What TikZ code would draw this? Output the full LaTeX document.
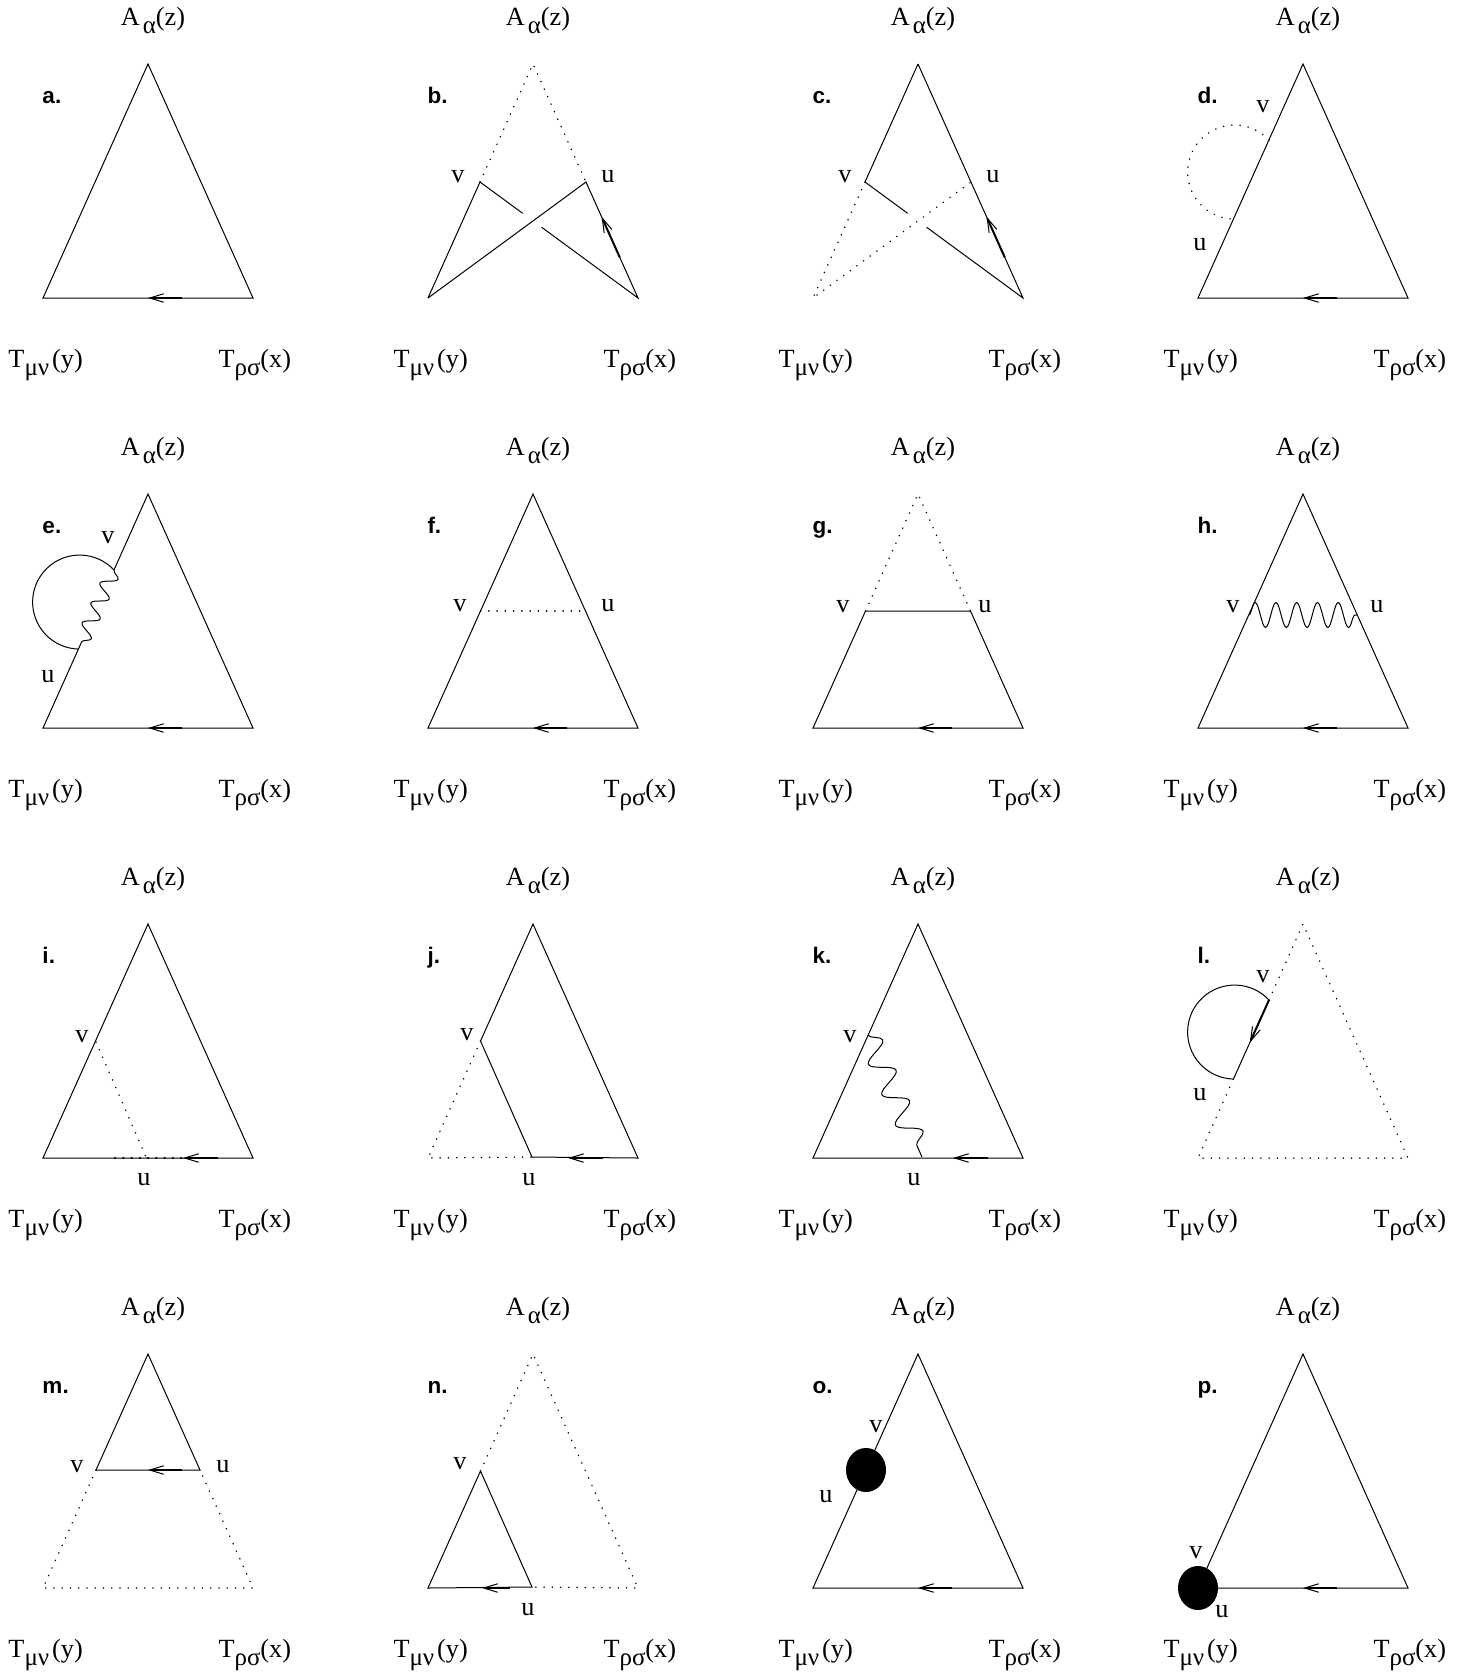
\documentclass[tikz,border=0pt]{standalone}
\usepackage{fontspec}
\setmainfont{Liberation Serif}
\newfontfamily\tagfont{Liberation Sans}
\usetikzlibrary{arrows.meta,calc,decorations.pathmorphing,shapes.geometric}

\newcommand\lowsub[1]{\raisebox{-3.4pt}{\fontsize{10}{12}\selectfont #1}}

\tikzset{
  lbl/.style={inner sep=0pt, font=\fontsize{10.5}{12.6}\selectfont},
  tag/.style={inner sep=0pt, font=\tagfont\bfseries\fontsize{9}{10}\selectfont},
  dotline/.style={line width=0.6pt, line cap=round, dash pattern=on 0.1pt off 3.2pt},
  flow/.style={line width=0.8pt, -{Straight Barb[length=5.6pt,width=3.4pt,line width=0.4pt]}},
  photon/.style={decorate, decoration={snake, amplitude=3pt, segment length=8.7pt}},
  blob/.style={ellipse, fill, draw, minimum width=15.6pt, minimum height=17.2pt, inner sep=0pt},
}

\begin{document}
\begin{tikzpicture}[x=0.4pt,y=-0.4pt]
  \useasboundingbox (0,0) rectangle (1473,1676);

  % the sixteen panels: vertices, external labels and panel letter
  \foreach \p/\col/\row in {a/0/0,b/1/0,c/2/0,d/3/0,e/0/1,f/1/1,g/2/1,h/3/1,
                            i/0/2,j/1/2,k/2/2,l/3/2,m/0/3,n/1/3,o/2/3,p/3/3} {
    \begin{scope}[shift={(385*\col,430*\row)}]
      \coordinate (\p-A) at (148,64);
      \coordinate (\p-L) at (43,298);
      \coordinate (\p-R) at (253,298);
      \coordinate (\p-m) at (148,298);
      \coordinate (\p-ms) at (182,298);
      \coordinate (\p-n) at (183,298);
      \coordinate (\p-ns) at (218,298);
      \node[lbl,anchor=base] (\p-za) at (153,25) {A\kern1.2pt\lowsub{α}(z)};
      \node[lbl,anchor=base west] (\p-ty) at (8,367) {T\lowsub{μν}\kern1.2pt(y)};
      \node[lbl,anchor=base west] (\p-tx) at (218,367) {T\lowsub{ρσ}(x)};
      \node[tag,anchor=base west] (\p-tag) at (42,103) {\p.};
    \end{scope}
  }

  % a.
  \draw (a-A) -- (a-L) -- (a-R) -- cycle;
  \draw[flow] (a-ms) -- (a-m);

  % b.
  \begin{scope}[shift={(385,0)}]
    \coordinate (b-v) at (95,182);
    \coordinate (b-u) at (201,182);
    \node[lbl,anchor=base] (b-vl) at (73,182) {v};
    \node[lbl,anchor=base] (b-ul) at (223,182) {u};
  \end{scope}
  \draw[dotline] (b-v) -- (b-A) -- (b-u);
  \draw (b-L) -- (b-v) -- ($(b-v)!0.27!(b-R)$);
  \draw ($(b-v)!0.39!(b-R)$) -- (b-R) -- (b-u) -- (b-L);
  \draw[flow] ($(b-R)!0.35!(b-u)$) -- ($(b-R)!0.7!(b-u)$);

  % c.
  \begin{scope}[shift={(770,0)}]
    \coordinate (c-v) at (95,182);
    \coordinate (c-u) at (201,182);
    \node[lbl,anchor=base] (c-vl) at (75,182) {v};
    \node[lbl,anchor=base] (c-ul) at (223,182) {u};
  \end{scope}
  \draw (c-A) -- (c-v) -- ($(c-v)!0.27!(c-R)$);
  \draw ($(c-v)!0.39!(c-R)$) -- (c-R) -- (c-A);
  \draw[dotline] (c-v) -- (c-L) -- (c-u);
  \draw[flow] ($(c-R)!0.35!(c-u)$) -- ($(c-R)!0.7!(c-u)$);

  % d.
  \begin{scope}[shift={(1155,0)}]
    \coordinate (d-v) at (114,140);
    \coordinate (d-u) at (78,220);
    \node[lbl,anchor=base] (d-vl) at (108,112) {v};
    \node[lbl,anchor=base] (d-ul) at (45,250) {u};
  \end{scope}
  \draw (d-A) -- (d-L) -- (d-R) -- cycle;
  \draw[flow] (d-ms) -- (d-m);
  \draw[dotline] (d-v) arc[start angle=-43, end angle=-268, radius=47];

  % e.
  \begin{scope}[shift={(0,430)}]
    \coordinate (e-v) at (114,140);
    \coordinate (e-u) at (78,220);
    \node[lbl,anchor=base] (e-vl) at (108,113) {v};
    \node[lbl,anchor=base] (e-ul) at (48,252) {u};
  \end{scope}
  \draw (e-v) -- (e-A) -- (e-R) -- (e-L) -- (e-u);
  \draw[flow] (e-ms) -- (e-m);
  \draw (e-v) arc[start angle=-43, end angle=-268, radius=47];
  \draw[photon] (e-v) -- (e-u);

  % f.
  \begin{scope}[shift={(385,430)}]
    \coordinate (f-v) at (95.5,181);
    \coordinate (f-u) at (200.5,181);
    \node[lbl,anchor=base] (f-vl) at (75,181) {v};
    \node[lbl,anchor=base] (f-ul) at (223,181) {u};
  \end{scope}
  \draw (f-A) -- (f-L) -- (f-R) -- cycle;
  \draw[flow] (f-ms) -- (f-m);
  \draw[dotline] (f-v) -- (f-u);

  % g.
  \begin{scope}[shift={(770,430)}]
    \coordinate (g-v) at (95.5,181);
    \coordinate (g-u) at (200.5,181);
    \node[lbl,anchor=base] (g-vl) at (73,182) {v};
    \node[lbl,anchor=base] (g-ul) at (215,182) {u};
  \end{scope}
  \draw[dotline] (g-v) -- (g-A) -- (g-u);
  \draw (g-v) -- (g-u) -- (g-R) -- (g-L) -- cycle;
  \draw[flow] (g-ms) -- (g-m);

  % h.
  \begin{scope}[shift={(1155,430)}]
    \coordinate (h-v) at (93.7,185);
    \coordinate (h-u) at (202.3,185);
    \node[lbl,anchor=base] (h-vl) at (78,182) {v};
    \node[lbl,anchor=base] (h-ul) at (222,182) {u};
  \end{scope}
  \draw (h-A) -- (h-L) -- (h-R) -- cycle;
  \draw[flow] (h-ms) -- (h-m);
  \draw[photon,decoration={amplitude=5pt,segment length=8.3pt}] (h-v) -- (h-u);

  % i.
  \begin{scope}[shift={(0,860)}]
    \coordinate (i-v) at (96,182);
    \coordinate (i-u) at (146,297);
    \coordinate (i-d1) at (115,298);
    \coordinate (i-d2) at (182,298);
    \node[lbl,anchor=base] (i-vl) at (82,182) {v};
    \node[lbl,anchor=base] (i-ul) at (144,325) {u};
  \end{scope}
  \draw (i-A) -- (i-L) -- (i-R) -- cycle;
  \draw[dotline] (i-v) -- (i-u);
  \draw[dotline,line width=0.9pt] (i-d1) -- (i-d2);
  \draw[flow] (i-ns) -- (i-n);

  % j.
  \begin{scope}[shift={(385,860)}]
    \coordinate (j-v) at (95.5,181);
    \coordinate (j-u) at (147,297);
    \node[lbl,anchor=base] (j-vl) at (82,180) {v};
    \node[lbl,anchor=base] (j-ul) at (144,325) {u};
  \end{scope}
  \draw (j-A) -- (j-v) -- (j-u) -- (j-R) -- cycle;
  \draw[dotline] (j-v) -- (j-L) -- (j-u);
  \draw[flow] (j-ns) -- (j-n);

  % k.
  \begin{scope}[shift={(770,860)}]
    \coordinate (k-v) at (98,175);
    \coordinate (k-u) at (152,297);
    \node[lbl,anchor=base] (k-vl) at (80,182) {v};
    \node[lbl,anchor=base] (k-ul) at (144,325) {u};
  \end{scope}
  \draw (k-A) -- (k-L) -- (k-R) -- cycle;
  \draw[flow] (k-ns) -- (k-n);
  \draw[photon,decoration={amplitude=4.6pt,segment length=13.3pt}] (k-v) -- (k-u);

  % l.
  \begin{scope}[shift={(1155,860)}]
    \coordinate (l-v) at (114,140);
    \coordinate (l-u) at (78,220);
    \node[lbl,anchor=base] (l-vl) at (108,122) {v};
    \node[lbl,anchor=base] (l-ul) at (45,240) {u};
  \end{scope}
  \draw[dotline] (l-v) -- (l-A) -- (l-R) -- (l-L) -- (l-u);
  \draw (l-v) arc[start angle=-43, end angle=-268, radius=47];
  \draw (l-v) -- (l-u);
  \draw[flow] (l-v) -- ($(l-v)!0.53!(l-u)$);

  % m.
  \begin{scope}[shift={(0,1290)}]
    \coordinate (m-v) at (96,180);
    \coordinate (m-u) at (200,180);
    \coordinate (m-w) at (148,180);
    \coordinate (m-ws) at (182,180);
    \node[lbl,anchor=base] (m-vl) at (77,182) {v};
    \node[lbl,anchor=base] (m-ul) at (223,182) {u};
  \end{scope}
  \draw (m-v) -- (m-A) -- (m-u) -- cycle;
  \draw[dotline] (m-v) -- (m-L) -- (m-R) -- (m-u);
  \draw[flow] (m-ws) -- (m-w);

  % n.
  \begin{scope}[shift={(385,1290)}]
    \coordinate (n-v) at (95.5,181);
    \coordinate (n-u) at (147,297);
    \coordinate (n-w) at (97,298);
    \coordinate (n-ws) at (125,298);
    \node[lbl,anchor=base] (n-vl) at (75,179) {v};
    \node[lbl,anchor=base] (n-ul) at (143,325) {u};
  \end{scope}
  \draw (n-L) -- (n-v) -- (n-u) -- cycle;
  \draw[dotline] (n-v) -- (n-A) -- (n-R) -- (n-u);
  \draw[flow] (n-ws) -- (n-w);

  % o.
  \begin{scope}[shift={(770,1290)}]
    \coordinate (o-b) at (96,180);
    \node[lbl,anchor=base] (o-vl) at (106,142) {v};
    \node[lbl,anchor=base] (o-ul) at (56,212) {u};
  \end{scope}
  \draw (o-A) -- (o-L) -- (o-R) -- cycle;
  \draw[flow] (o-ms) -- (o-m);
  \node[blob] (o-blob) at (o-b) {};

  % p.
  \begin{scope}[shift={(1155,1290)}]
    \node[lbl,anchor=base] (p-vl) at (41,268) {v};
    \node[lbl,anchor=base] (p-ul) at (67,327) {u};
  \end{scope}
  \draw (p-A) -- (p-L) -- (p-R) -- cycle;
  \draw[flow] (p-ms) -- (p-m);
  \node[blob] (p-blob) at (p-L) {};
\end{tikzpicture}
\end{document}
